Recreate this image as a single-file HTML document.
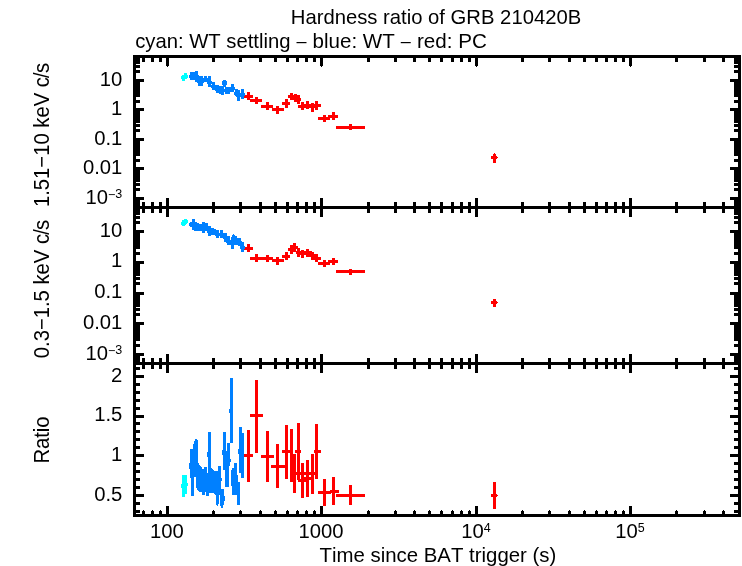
<!DOCTYPE html>
<html><head><meta charset="utf-8"><title>Hardness ratio of GRB 210420B</title>
<style>
html,body{margin:0;padding:0;background:#fff;}
svg{display:block;}
text{font-family:"Liberation Sans",Arial,Helvetica,sans-serif;font-size:20.25px;fill:#000;font-kerning:none;}
</style></head><body>
<svg width="742" height="566" viewBox="0 0 742 566">
<rect x="0" y="0" width="742" height="566" fill="#fff"/>
<g shape-rendering="crispEdges">
<rect x="133" y="55" width="608" height="3" fill="#000"/>
<rect x="133" y="514" width="608" height="3" fill="#000"/>
<rect x="133" y="55" width="3" height="462" fill="#000"/>
<rect x="738" y="55" width="3" height="462" fill="#000"/>
<rect x="133" y="206" width="608" height="3" fill="#000"/>
<rect x="133" y="362" width="608" height="3" fill="#000"/>
<rect x="142" y="55" width="3" height="7" fill="#000"/>
<rect x="142" y="511" width="3" height="6" fill="#000"/>
<rect x="143" y="510" width="1" height="1" fill="#000"/>
<rect x="142" y="202" width="3" height="11" fill="#000"/>
<rect x="142" y="358" width="3" height="11" fill="#000"/>
<rect x="151" y="55" width="3" height="7" fill="#000"/>
<rect x="151" y="511" width="3" height="6" fill="#000"/>
<rect x="152" y="510" width="1" height="1" fill="#000"/>
<rect x="151" y="202" width="3" height="11" fill="#000"/>
<rect x="151" y="358" width="3" height="11" fill="#000"/>
<rect x="159" y="55" width="3" height="7" fill="#000"/>
<rect x="159" y="511" width="3" height="6" fill="#000"/>
<rect x="160" y="510" width="1" height="1" fill="#000"/>
<rect x="159" y="202" width="3" height="11" fill="#000"/>
<rect x="159" y="358" width="3" height="11" fill="#000"/>
<rect x="166" y="55" width="3" height="11" fill="#000"/>
<rect x="167" y="66" width="1" height="1" fill="#000"/>
<rect x="166" y="506" width="3" height="11" fill="#000"/>
<rect x="166" y="198" width="3" height="19" fill="#000"/>
<rect x="166" y="354" width="3" height="19" fill="#000"/>
<rect x="212" y="55" width="3" height="7" fill="#000"/>
<rect x="212" y="511" width="3" height="6" fill="#000"/>
<rect x="213" y="510" width="1" height="1" fill="#000"/>
<rect x="212" y="202" width="3" height="11" fill="#000"/>
<rect x="212" y="358" width="3" height="11" fill="#000"/>
<rect x="239" y="55" width="3" height="7" fill="#000"/>
<rect x="239" y="511" width="3" height="6" fill="#000"/>
<rect x="240" y="510" width="1" height="1" fill="#000"/>
<rect x="239" y="202" width="3" height="11" fill="#000"/>
<rect x="239" y="358" width="3" height="11" fill="#000"/>
<rect x="259" y="55" width="3" height="7" fill="#000"/>
<rect x="259" y="511" width="3" height="6" fill="#000"/>
<rect x="260" y="510" width="1" height="1" fill="#000"/>
<rect x="259" y="202" width="3" height="11" fill="#000"/>
<rect x="259" y="358" width="3" height="11" fill="#000"/>
<rect x="274" y="55" width="3" height="7" fill="#000"/>
<rect x="274" y="511" width="3" height="6" fill="#000"/>
<rect x="275" y="510" width="1" height="1" fill="#000"/>
<rect x="274" y="202" width="3" height="11" fill="#000"/>
<rect x="274" y="358" width="3" height="11" fill="#000"/>
<rect x="286" y="55" width="3" height="7" fill="#000"/>
<rect x="286" y="511" width="3" height="6" fill="#000"/>
<rect x="287" y="510" width="1" height="1" fill="#000"/>
<rect x="286" y="202" width="3" height="11" fill="#000"/>
<rect x="286" y="358" width="3" height="11" fill="#000"/>
<rect x="296" y="55" width="3" height="7" fill="#000"/>
<rect x="296" y="511" width="3" height="6" fill="#000"/>
<rect x="297" y="510" width="1" height="1" fill="#000"/>
<rect x="296" y="202" width="3" height="11" fill="#000"/>
<rect x="296" y="358" width="3" height="11" fill="#000"/>
<rect x="305" y="55" width="3" height="7" fill="#000"/>
<rect x="305" y="511" width="3" height="6" fill="#000"/>
<rect x="306" y="510" width="1" height="1" fill="#000"/>
<rect x="305" y="202" width="3" height="11" fill="#000"/>
<rect x="305" y="358" width="3" height="11" fill="#000"/>
<rect x="313" y="55" width="3" height="7" fill="#000"/>
<rect x="313" y="511" width="3" height="6" fill="#000"/>
<rect x="314" y="510" width="1" height="1" fill="#000"/>
<rect x="313" y="202" width="3" height="11" fill="#000"/>
<rect x="313" y="358" width="3" height="11" fill="#000"/>
<rect x="320" y="55" width="3" height="11" fill="#000"/>
<rect x="321" y="66" width="1" height="1" fill="#000"/>
<rect x="320" y="506" width="3" height="11" fill="#000"/>
<rect x="320" y="198" width="3" height="19" fill="#000"/>
<rect x="320" y="354" width="3" height="19" fill="#000"/>
<rect x="367" y="55" width="3" height="7" fill="#000"/>
<rect x="367" y="511" width="3" height="6" fill="#000"/>
<rect x="368" y="510" width="1" height="1" fill="#000"/>
<rect x="367" y="202" width="3" height="11" fill="#000"/>
<rect x="367" y="358" width="3" height="11" fill="#000"/>
<rect x="394" y="55" width="3" height="7" fill="#000"/>
<rect x="394" y="511" width="3" height="6" fill="#000"/>
<rect x="395" y="510" width="1" height="1" fill="#000"/>
<rect x="394" y="202" width="3" height="11" fill="#000"/>
<rect x="394" y="358" width="3" height="11" fill="#000"/>
<rect x="413" y="55" width="3" height="7" fill="#000"/>
<rect x="413" y="511" width="3" height="6" fill="#000"/>
<rect x="414" y="510" width="1" height="1" fill="#000"/>
<rect x="413" y="202" width="3" height="11" fill="#000"/>
<rect x="413" y="358" width="3" height="11" fill="#000"/>
<rect x="428" y="55" width="3" height="7" fill="#000"/>
<rect x="428" y="511" width="3" height="6" fill="#000"/>
<rect x="429" y="510" width="1" height="1" fill="#000"/>
<rect x="428" y="202" width="3" height="11" fill="#000"/>
<rect x="428" y="358" width="3" height="11" fill="#000"/>
<rect x="440" y="55" width="3" height="7" fill="#000"/>
<rect x="440" y="511" width="3" height="6" fill="#000"/>
<rect x="441" y="510" width="1" height="1" fill="#000"/>
<rect x="440" y="202" width="3" height="11" fill="#000"/>
<rect x="440" y="358" width="3" height="11" fill="#000"/>
<rect x="451" y="55" width="3" height="7" fill="#000"/>
<rect x="451" y="511" width="3" height="6" fill="#000"/>
<rect x="452" y="510" width="1" height="1" fill="#000"/>
<rect x="451" y="202" width="3" height="11" fill="#000"/>
<rect x="451" y="358" width="3" height="11" fill="#000"/>
<rect x="460" y="55" width="3" height="7" fill="#000"/>
<rect x="460" y="511" width="3" height="6" fill="#000"/>
<rect x="461" y="510" width="1" height="1" fill="#000"/>
<rect x="460" y="202" width="3" height="11" fill="#000"/>
<rect x="460" y="358" width="3" height="11" fill="#000"/>
<rect x="468" y="55" width="3" height="7" fill="#000"/>
<rect x="468" y="511" width="3" height="6" fill="#000"/>
<rect x="469" y="510" width="1" height="1" fill="#000"/>
<rect x="468" y="202" width="3" height="11" fill="#000"/>
<rect x="468" y="358" width="3" height="11" fill="#000"/>
<rect x="475" y="55" width="3" height="11" fill="#000"/>
<rect x="476" y="66" width="1" height="1" fill="#000"/>
<rect x="475" y="506" width="3" height="11" fill="#000"/>
<rect x="475" y="198" width="3" height="19" fill="#000"/>
<rect x="475" y="354" width="3" height="19" fill="#000"/>
<rect x="521" y="55" width="3" height="7" fill="#000"/>
<rect x="521" y="511" width="3" height="6" fill="#000"/>
<rect x="522" y="510" width="1" height="1" fill="#000"/>
<rect x="521" y="202" width="3" height="11" fill="#000"/>
<rect x="521" y="358" width="3" height="11" fill="#000"/>
<rect x="548" y="55" width="3" height="7" fill="#000"/>
<rect x="548" y="511" width="3" height="6" fill="#000"/>
<rect x="549" y="510" width="1" height="1" fill="#000"/>
<rect x="548" y="202" width="3" height="11" fill="#000"/>
<rect x="548" y="358" width="3" height="11" fill="#000"/>
<rect x="568" y="55" width="3" height="7" fill="#000"/>
<rect x="568" y="511" width="3" height="6" fill="#000"/>
<rect x="569" y="510" width="1" height="1" fill="#000"/>
<rect x="568" y="202" width="3" height="11" fill="#000"/>
<rect x="568" y="358" width="3" height="11" fill="#000"/>
<rect x="583" y="55" width="3" height="7" fill="#000"/>
<rect x="583" y="511" width="3" height="6" fill="#000"/>
<rect x="584" y="510" width="1" height="1" fill="#000"/>
<rect x="583" y="202" width="3" height="11" fill="#000"/>
<rect x="583" y="358" width="3" height="11" fill="#000"/>
<rect x="595" y="55" width="3" height="7" fill="#000"/>
<rect x="595" y="511" width="3" height="6" fill="#000"/>
<rect x="596" y="510" width="1" height="1" fill="#000"/>
<rect x="595" y="202" width="3" height="11" fill="#000"/>
<rect x="595" y="358" width="3" height="11" fill="#000"/>
<rect x="605" y="55" width="3" height="7" fill="#000"/>
<rect x="605" y="511" width="3" height="6" fill="#000"/>
<rect x="606" y="510" width="1" height="1" fill="#000"/>
<rect x="605" y="202" width="3" height="11" fill="#000"/>
<rect x="605" y="358" width="3" height="11" fill="#000"/>
<rect x="614" y="55" width="3" height="7" fill="#000"/>
<rect x="614" y="511" width="3" height="6" fill="#000"/>
<rect x="615" y="510" width="1" height="1" fill="#000"/>
<rect x="614" y="202" width="3" height="11" fill="#000"/>
<rect x="614" y="358" width="3" height="11" fill="#000"/>
<rect x="622" y="55" width="3" height="7" fill="#000"/>
<rect x="622" y="511" width="3" height="6" fill="#000"/>
<rect x="623" y="510" width="1" height="1" fill="#000"/>
<rect x="622" y="202" width="3" height="11" fill="#000"/>
<rect x="622" y="358" width="3" height="11" fill="#000"/>
<rect x="629" y="55" width="3" height="11" fill="#000"/>
<rect x="630" y="66" width="1" height="1" fill="#000"/>
<rect x="629" y="506" width="3" height="11" fill="#000"/>
<rect x="629" y="198" width="3" height="19" fill="#000"/>
<rect x="629" y="354" width="3" height="19" fill="#000"/>
<rect x="675" y="55" width="3" height="7" fill="#000"/>
<rect x="675" y="511" width="3" height="6" fill="#000"/>
<rect x="676" y="510" width="1" height="1" fill="#000"/>
<rect x="675" y="202" width="3" height="11" fill="#000"/>
<rect x="675" y="358" width="3" height="11" fill="#000"/>
<rect x="703" y="55" width="3" height="7" fill="#000"/>
<rect x="703" y="511" width="3" height="6" fill="#000"/>
<rect x="704" y="510" width="1" height="1" fill="#000"/>
<rect x="703" y="202" width="3" height="11" fill="#000"/>
<rect x="703" y="358" width="3" height="11" fill="#000"/>
<rect x="722" y="55" width="3" height="7" fill="#000"/>
<rect x="722" y="511" width="3" height="6" fill="#000"/>
<rect x="723" y="510" width="1" height="1" fill="#000"/>
<rect x="722" y="202" width="3" height="11" fill="#000"/>
<rect x="722" y="358" width="3" height="11" fill="#000"/>
<rect x="133" y="203" width="7" height="3" fill="#000"/>
<rect x="734" y="203" width="7" height="3" fill="#000"/>
<rect x="133" y="201" width="7" height="3" fill="#000"/>
<rect x="734" y="201" width="7" height="3" fill="#000"/>
<rect x="133" y="200" width="7" height="3" fill="#000"/>
<rect x="734" y="200" width="7" height="3" fill="#000"/>
<rect x="133" y="198" width="7" height="3" fill="#000"/>
<rect x="734" y="198" width="7" height="3" fill="#000"/>
<rect x="133" y="197" width="11" height="3" fill="#000"/>
<rect x="730" y="197" width="11" height="3" fill="#000"/>
<rect x="133" y="188" width="7" height="3" fill="#000"/>
<rect x="734" y="188" width="7" height="3" fill="#000"/>
<rect x="133" y="183" width="7" height="3" fill="#000"/>
<rect x="734" y="183" width="7" height="3" fill="#000"/>
<rect x="133" y="179" width="7" height="3" fill="#000"/>
<rect x="734" y="179" width="7" height="3" fill="#000"/>
<rect x="133" y="176" width="7" height="3" fill="#000"/>
<rect x="734" y="176" width="7" height="3" fill="#000"/>
<rect x="133" y="174" width="7" height="3" fill="#000"/>
<rect x="734" y="174" width="7" height="3" fill="#000"/>
<rect x="133" y="172" width="7" height="3" fill="#000"/>
<rect x="734" y="172" width="7" height="3" fill="#000"/>
<rect x="133" y="170" width="7" height="3" fill="#000"/>
<rect x="734" y="170" width="7" height="3" fill="#000"/>
<rect x="133" y="169" width="7" height="3" fill="#000"/>
<rect x="734" y="169" width="7" height="3" fill="#000"/>
<rect x="133" y="167" width="11" height="3" fill="#000"/>
<rect x="730" y="167" width="11" height="3" fill="#000"/>
<rect x="133" y="159" width="7" height="3" fill="#000"/>
<rect x="734" y="159" width="7" height="3" fill="#000"/>
<rect x="133" y="153" width="7" height="3" fill="#000"/>
<rect x="734" y="153" width="7" height="3" fill="#000"/>
<rect x="133" y="150" width="7" height="3" fill="#000"/>
<rect x="734" y="150" width="7" height="3" fill="#000"/>
<rect x="133" y="147" width="7" height="3" fill="#000"/>
<rect x="734" y="147" width="7" height="3" fill="#000"/>
<rect x="133" y="144" width="7" height="3" fill="#000"/>
<rect x="734" y="144" width="7" height="3" fill="#000"/>
<rect x="133" y="142" width="7" height="3" fill="#000"/>
<rect x="734" y="142" width="7" height="3" fill="#000"/>
<rect x="133" y="141" width="7" height="3" fill="#000"/>
<rect x="734" y="141" width="7" height="3" fill="#000"/>
<rect x="133" y="139" width="7" height="3" fill="#000"/>
<rect x="734" y="139" width="7" height="3" fill="#000"/>
<rect x="133" y="138" width="11" height="3" fill="#000"/>
<rect x="730" y="138" width="11" height="3" fill="#000"/>
<rect x="133" y="129" width="7" height="3" fill="#000"/>
<rect x="734" y="129" width="7" height="3" fill="#000"/>
<rect x="133" y="124" width="7" height="3" fill="#000"/>
<rect x="734" y="124" width="7" height="3" fill="#000"/>
<rect x="133" y="120" width="7" height="3" fill="#000"/>
<rect x="734" y="120" width="7" height="3" fill="#000"/>
<rect x="133" y="117" width="7" height="3" fill="#000"/>
<rect x="734" y="117" width="7" height="3" fill="#000"/>
<rect x="133" y="115" width="7" height="3" fill="#000"/>
<rect x="734" y="115" width="7" height="3" fill="#000"/>
<rect x="133" y="113" width="7" height="3" fill="#000"/>
<rect x="734" y="113" width="7" height="3" fill="#000"/>
<rect x="133" y="111" width="7" height="3" fill="#000"/>
<rect x="734" y="111" width="7" height="3" fill="#000"/>
<rect x="133" y="110" width="7" height="3" fill="#000"/>
<rect x="734" y="110" width="7" height="3" fill="#000"/>
<rect x="133" y="108" width="11" height="3" fill="#000"/>
<rect x="730" y="108" width="11" height="3" fill="#000"/>
<rect x="133" y="100" width="7" height="3" fill="#000"/>
<rect x="734" y="100" width="7" height="3" fill="#000"/>
<rect x="133" y="94" width="7" height="3" fill="#000"/>
<rect x="734" y="94" width="7" height="3" fill="#000"/>
<rect x="133" y="91" width="7" height="3" fill="#000"/>
<rect x="734" y="91" width="7" height="3" fill="#000"/>
<rect x="133" y="88" width="7" height="3" fill="#000"/>
<rect x="734" y="88" width="7" height="3" fill="#000"/>
<rect x="133" y="85" width="7" height="3" fill="#000"/>
<rect x="734" y="85" width="7" height="3" fill="#000"/>
<rect x="133" y="83" width="7" height="3" fill="#000"/>
<rect x="734" y="83" width="7" height="3" fill="#000"/>
<rect x="133" y="82" width="7" height="3" fill="#000"/>
<rect x="734" y="82" width="7" height="3" fill="#000"/>
<rect x="133" y="80" width="7" height="3" fill="#000"/>
<rect x="734" y="80" width="7" height="3" fill="#000"/>
<rect x="133" y="79" width="11" height="3" fill="#000"/>
<rect x="730" y="79" width="11" height="3" fill="#000"/>
<rect x="133" y="70" width="7" height="3" fill="#000"/>
<rect x="734" y="70" width="7" height="3" fill="#000"/>
<rect x="133" y="65" width="7" height="3" fill="#000"/>
<rect x="734" y="65" width="7" height="3" fill="#000"/>
<rect x="133" y="61" width="7" height="3" fill="#000"/>
<rect x="734" y="61" width="7" height="3" fill="#000"/>
<rect x="133" y="58" width="7" height="3" fill="#000"/>
<rect x="734" y="58" width="7" height="3" fill="#000"/>
<rect x="133" y="360" width="7" height="3" fill="#000"/>
<rect x="734" y="360" width="7" height="3" fill="#000"/>
<rect x="133" y="358" width="7" height="3" fill="#000"/>
<rect x="734" y="358" width="7" height="3" fill="#000"/>
<rect x="133" y="356" width="7" height="3" fill="#000"/>
<rect x="734" y="356" width="7" height="3" fill="#000"/>
<rect x="133" y="355" width="7" height="3" fill="#000"/>
<rect x="734" y="355" width="7" height="3" fill="#000"/>
<rect x="133" y="353" width="11" height="3" fill="#000"/>
<rect x="730" y="353" width="11" height="3" fill="#000"/>
<rect x="133" y="344" width="7" height="3" fill="#000"/>
<rect x="734" y="344" width="7" height="3" fill="#000"/>
<rect x="133" y="338" width="7" height="3" fill="#000"/>
<rect x="734" y="338" width="7" height="3" fill="#000"/>
<rect x="133" y="335" width="7" height="3" fill="#000"/>
<rect x="734" y="335" width="7" height="3" fill="#000"/>
<rect x="133" y="332" width="7" height="3" fill="#000"/>
<rect x="734" y="332" width="7" height="3" fill="#000"/>
<rect x="133" y="329" width="7" height="3" fill="#000"/>
<rect x="734" y="329" width="7" height="3" fill="#000"/>
<rect x="133" y="327" width="7" height="3" fill="#000"/>
<rect x="734" y="327" width="7" height="3" fill="#000"/>
<rect x="133" y="325" width="7" height="3" fill="#000"/>
<rect x="734" y="325" width="7" height="3" fill="#000"/>
<rect x="133" y="324" width="7" height="3" fill="#000"/>
<rect x="734" y="324" width="7" height="3" fill="#000"/>
<rect x="133" y="322" width="11" height="3" fill="#000"/>
<rect x="730" y="322" width="11" height="3" fill="#000"/>
<rect x="133" y="313" width="7" height="3" fill="#000"/>
<rect x="734" y="313" width="7" height="3" fill="#000"/>
<rect x="133" y="308" width="7" height="3" fill="#000"/>
<rect x="734" y="308" width="7" height="3" fill="#000"/>
<rect x="133" y="304" width="7" height="3" fill="#000"/>
<rect x="734" y="304" width="7" height="3" fill="#000"/>
<rect x="133" y="301" width="7" height="3" fill="#000"/>
<rect x="734" y="301" width="7" height="3" fill="#000"/>
<rect x="133" y="299" width="7" height="3" fill="#000"/>
<rect x="734" y="299" width="7" height="3" fill="#000"/>
<rect x="133" y="296" width="7" height="3" fill="#000"/>
<rect x="734" y="296" width="7" height="3" fill="#000"/>
<rect x="133" y="295" width="7" height="3" fill="#000"/>
<rect x="734" y="295" width="7" height="3" fill="#000"/>
<rect x="133" y="293" width="7" height="3" fill="#000"/>
<rect x="734" y="293" width="7" height="3" fill="#000"/>
<rect x="133" y="292" width="11" height="3" fill="#000"/>
<rect x="730" y="292" width="11" height="3" fill="#000"/>
<rect x="133" y="282" width="7" height="3" fill="#000"/>
<rect x="734" y="282" width="7" height="3" fill="#000"/>
<rect x="133" y="277" width="7" height="3" fill="#000"/>
<rect x="734" y="277" width="7" height="3" fill="#000"/>
<rect x="133" y="273" width="7" height="3" fill="#000"/>
<rect x="734" y="273" width="7" height="3" fill="#000"/>
<rect x="133" y="270" width="7" height="3" fill="#000"/>
<rect x="734" y="270" width="7" height="3" fill="#000"/>
<rect x="133" y="268" width="7" height="3" fill="#000"/>
<rect x="734" y="268" width="7" height="3" fill="#000"/>
<rect x="133" y="266" width="7" height="3" fill="#000"/>
<rect x="734" y="266" width="7" height="3" fill="#000"/>
<rect x="133" y="264" width="7" height="3" fill="#000"/>
<rect x="734" y="264" width="7" height="3" fill="#000"/>
<rect x="133" y="262" width="7" height="3" fill="#000"/>
<rect x="734" y="262" width="7" height="3" fill="#000"/>
<rect x="133" y="261" width="11" height="3" fill="#000"/>
<rect x="730" y="261" width="11" height="3" fill="#000"/>
<rect x="133" y="252" width="7" height="3" fill="#000"/>
<rect x="734" y="252" width="7" height="3" fill="#000"/>
<rect x="133" y="246" width="7" height="3" fill="#000"/>
<rect x="734" y="246" width="7" height="3" fill="#000"/>
<rect x="133" y="243" width="7" height="3" fill="#000"/>
<rect x="734" y="243" width="7" height="3" fill="#000"/>
<rect x="133" y="240" width="7" height="3" fill="#000"/>
<rect x="734" y="240" width="7" height="3" fill="#000"/>
<rect x="133" y="237" width="7" height="3" fill="#000"/>
<rect x="734" y="237" width="7" height="3" fill="#000"/>
<rect x="133" y="235" width="7" height="3" fill="#000"/>
<rect x="734" y="235" width="7" height="3" fill="#000"/>
<rect x="133" y="233" width="7" height="3" fill="#000"/>
<rect x="734" y="233" width="7" height="3" fill="#000"/>
<rect x="133" y="232" width="7" height="3" fill="#000"/>
<rect x="734" y="232" width="7" height="3" fill="#000"/>
<rect x="133" y="230" width="11" height="3" fill="#000"/>
<rect x="730" y="230" width="11" height="3" fill="#000"/>
<rect x="133" y="221" width="7" height="3" fill="#000"/>
<rect x="734" y="221" width="7" height="3" fill="#000"/>
<rect x="133" y="216" width="7" height="3" fill="#000"/>
<rect x="734" y="216" width="7" height="3" fill="#000"/>
<rect x="133" y="212" width="7" height="3" fill="#000"/>
<rect x="734" y="212" width="7" height="3" fill="#000"/>
<rect x="133" y="209" width="7" height="3" fill="#000"/>
<rect x="734" y="209" width="7" height="3" fill="#000"/>
<rect x="133" y="510" width="7" height="3" fill="#000"/>
<rect x="734" y="510" width="7" height="3" fill="#000"/>
<rect x="133" y="502" width="7" height="3" fill="#000"/>
<rect x="734" y="502" width="7" height="3" fill="#000"/>
<rect x="133" y="494" width="11" height="3" fill="#000"/>
<rect x="730" y="494" width="11" height="3" fill="#000"/>
<rect x="133" y="486" width="7" height="3" fill="#000"/>
<rect x="734" y="486" width="7" height="3" fill="#000"/>
<rect x="133" y="478" width="7" height="3" fill="#000"/>
<rect x="734" y="478" width="7" height="3" fill="#000"/>
<rect x="133" y="470" width="7" height="3" fill="#000"/>
<rect x="734" y="470" width="7" height="3" fill="#000"/>
<rect x="133" y="462" width="7" height="3" fill="#000"/>
<rect x="734" y="462" width="7" height="3" fill="#000"/>
<rect x="133" y="454" width="11" height="3" fill="#000"/>
<rect x="730" y="454" width="11" height="3" fill="#000"/>
<rect x="133" y="446" width="7" height="3" fill="#000"/>
<rect x="734" y="446" width="7" height="3" fill="#000"/>
<rect x="133" y="438" width="7" height="3" fill="#000"/>
<rect x="734" y="438" width="7" height="3" fill="#000"/>
<rect x="133" y="430" width="7" height="3" fill="#000"/>
<rect x="734" y="430" width="7" height="3" fill="#000"/>
<rect x="133" y="422" width="7" height="3" fill="#000"/>
<rect x="734" y="422" width="7" height="3" fill="#000"/>
<rect x="133" y="415" width="11" height="3" fill="#000"/>
<rect x="730" y="415" width="11" height="3" fill="#000"/>
<rect x="133" y="407" width="7" height="3" fill="#000"/>
<rect x="734" y="407" width="7" height="3" fill="#000"/>
<rect x="133" y="399" width="7" height="3" fill="#000"/>
<rect x="734" y="399" width="7" height="3" fill="#000"/>
<rect x="133" y="391" width="7" height="3" fill="#000"/>
<rect x="734" y="391" width="7" height="3" fill="#000"/>
<rect x="133" y="383" width="7" height="3" fill="#000"/>
<rect x="734" y="383" width="7" height="3" fill="#000"/>
<rect x="133" y="375" width="11" height="3" fill="#000"/>
<rect x="730" y="375" width="11" height="3" fill="#000"/>
<rect x="133" y="367" width="7" height="3" fill="#000"/>
<rect x="734" y="367" width="7" height="3" fill="#000"/>
<rect x="244" y="95" width="9" height="3" fill="#ff0000"/>
<rect x="247" y="92" width="3" height="8" fill="#ff0000"/>
<rect x="250" y="99" width="12" height="3" fill="#ff0000"/>
<rect x="255" y="97" width="3" height="7" fill="#ff0000"/>
<rect x="261" y="105" width="12" height="3" fill="#ff0000"/>
<rect x="266" y="102" width="3" height="8" fill="#ff0000"/>
<rect x="272" y="108" width="12" height="3" fill="#ff0000"/>
<rect x="276" y="106" width="3" height="8" fill="#ff0000"/>
<rect x="282" y="102" width="8" height="3" fill="#ff0000"/>
<rect x="285" y="99" width="3" height="9" fill="#ff0000"/>
<rect x="288" y="95" width="7" height="3" fill="#ff0000"/>
<rect x="290" y="93" width="3" height="7" fill="#ff0000"/>
<rect x="291" y="97" width="8" height="3" fill="#ff0000"/>
<rect x="294" y="94" width="3" height="8" fill="#ff0000"/>
<rect x="296" y="98" width="5" height="3" fill="#ff0000"/>
<rect x="297" y="95" width="3" height="9" fill="#ff0000"/>
<rect x="298" y="105" width="8" height="3" fill="#ff0000"/>
<rect x="301" y="102" width="3" height="8" fill="#ff0000"/>
<rect x="303" y="104" width="9" height="3" fill="#ff0000"/>
<rect x="306" y="101" width="3" height="8" fill="#ff0000"/>
<rect x="308" y="105" width="8" height="3" fill="#ff0000"/>
<rect x="311" y="103" width="3" height="9" fill="#ff0000"/>
<rect x="313" y="104" width="8" height="3" fill="#ff0000"/>
<rect x="315" y="101" width="3" height="9" fill="#ff0000"/>
<rect x="318" y="117" width="12" height="3" fill="#ff0000"/>
<rect x="323" y="115" width="3" height="7" fill="#ff0000"/>
<rect x="328" y="115" width="10" height="3" fill="#ff0000"/>
<rect x="332" y="112" width="3" height="8" fill="#ff0000"/>
<rect x="336" y="126" width="29" height="3" fill="#ff0000"/>
<rect x="349" y="124" width="3" height="6" fill="#ff0000"/>
<rect x="493" y="154" width="3" height="9" fill="#ff0000"/>
<rect x="491" y="156" width="6" height="3" fill="#ff0000"/>
<rect x="494" y="153" width="1" height="1" fill="#ff0000"/>
<rect x="497" y="157" width="1" height="1" fill="#ff0000"/>
<rect x="190" y="72" width="3" height="8" fill="#0080ff"/>
<rect x="189" y="75" width="5" height="3" fill="#0080ff"/>
<rect x="193" y="72" width="3" height="8" fill="#0080ff"/>
<rect x="192" y="75" width="5" height="3" fill="#0080ff"/>
<rect x="195" y="71" width="3" height="11" fill="#0080ff"/>
<rect x="194" y="75" width="5" height="3" fill="#0080ff"/>
<rect x="198" y="76" width="3" height="10" fill="#0080ff"/>
<rect x="197" y="80" width="5" height="3" fill="#0080ff"/>
<rect x="200" y="76" width="3" height="10" fill="#0080ff"/>
<rect x="199" y="80" width="5" height="3" fill="#0080ff"/>
<rect x="204" y="76" width="3" height="6" fill="#0080ff"/>
<rect x="203" y="78" width="5" height="3" fill="#0080ff"/>
<rect x="208" y="76" width="3" height="11" fill="#0080ff"/>
<rect x="207" y="81" width="5" height="3" fill="#0080ff"/>
<rect x="212" y="82" width="3" height="8" fill="#0080ff"/>
<rect x="211" y="85" width="5" height="3" fill="#0080ff"/>
<rect x="216" y="85" width="3" height="8" fill="#0080ff"/>
<rect x="215" y="88" width="5" height="3" fill="#0080ff"/>
<rect x="219" y="86" width="3" height="8" fill="#0080ff"/>
<rect x="218" y="89" width="5" height="3" fill="#0080ff"/>
<rect x="221" y="86" width="3" height="9" fill="#0080ff"/>
<rect x="220" y="89" width="5" height="3" fill="#0080ff"/>
<rect x="225" y="87" width="3" height="7" fill="#0080ff"/>
<rect x="224" y="89" width="5" height="3" fill="#0080ff"/>
<rect x="227" y="87" width="3" height="7" fill="#0080ff"/>
<rect x="226" y="89" width="5" height="3" fill="#0080ff"/>
<rect x="231" y="84" width="3" height="8" fill="#0080ff"/>
<rect x="230" y="87" width="5" height="3" fill="#0080ff"/>
<rect x="235" y="89" width="3" height="7" fill="#0080ff"/>
<rect x="234" y="92" width="5" height="3" fill="#0080ff"/>
<rect x="237" y="90" width="3" height="11" fill="#0080ff"/>
<rect x="236" y="94" width="5" height="3" fill="#0080ff"/>
<rect x="241" y="89" width="3" height="10" fill="#0080ff"/>
<rect x="240" y="93" width="5" height="3" fill="#0080ff"/>
<rect x="223" y="80" width="3" height="7" fill="#0080ff"/>
<rect x="222" y="81" width="5" height="4" fill="#0080ff"/>
<rect x="182" y="75" width="3" height="6" fill="#00ffff"/>
<rect x="181" y="76" width="5" height="3" fill="#00ffff"/>
<rect x="184" y="73" width="3" height="6" fill="#00ffff"/>
<rect x="183" y="75" width="5" height="3" fill="#00ffff"/>
<rect x="244" y="247" width="9" height="3" fill="#ff0000"/>
<rect x="247" y="244" width="3" height="8" fill="#ff0000"/>
<rect x="250" y="257" width="12" height="3" fill="#ff0000"/>
<rect x="255" y="254" width="3" height="8" fill="#ff0000"/>
<rect x="261" y="257" width="12" height="3" fill="#ff0000"/>
<rect x="266" y="255" width="3" height="7" fill="#ff0000"/>
<rect x="272" y="259" width="12" height="3" fill="#ff0000"/>
<rect x="276" y="257" width="3" height="8" fill="#ff0000"/>
<rect x="282" y="255" width="8" height="3" fill="#ff0000"/>
<rect x="285" y="252" width="3" height="8" fill="#ff0000"/>
<rect x="288" y="248" width="7" height="3" fill="#ff0000"/>
<rect x="290" y="245" width="3" height="9" fill="#ff0000"/>
<rect x="291" y="246" width="7" height="3" fill="#ff0000"/>
<rect x="293" y="243" width="3" height="9" fill="#ff0000"/>
<rect x="296" y="251" width="5" height="3" fill="#ff0000"/>
<rect x="297" y="248" width="3" height="9" fill="#ff0000"/>
<rect x="298" y="252" width="8" height="3" fill="#ff0000"/>
<rect x="301" y="250" width="3" height="8" fill="#ff0000"/>
<rect x="303" y="251" width="9" height="3" fill="#ff0000"/>
<rect x="306" y="249" width="3" height="8" fill="#ff0000"/>
<rect x="308" y="254" width="8" height="3" fill="#ff0000"/>
<rect x="311" y="252" width="3" height="8" fill="#ff0000"/>
<rect x="313" y="257" width="8" height="3" fill="#ff0000"/>
<rect x="315" y="254" width="3" height="8" fill="#ff0000"/>
<rect x="318" y="262" width="12" height="3" fill="#ff0000"/>
<rect x="323" y="260" width="3" height="7" fill="#ff0000"/>
<rect x="328" y="260" width="10" height="3" fill="#ff0000"/>
<rect x="332" y="258" width="3" height="7" fill="#ff0000"/>
<rect x="336" y="270" width="29" height="3" fill="#ff0000"/>
<rect x="349" y="269" width="3" height="6" fill="#ff0000"/>
<rect x="493" y="299" width="3" height="8" fill="#ff0000"/>
<rect x="491" y="301" width="6" height="3" fill="#ff0000"/>
<rect x="497" y="302" width="1" height="1" fill="#ff0000"/>
<rect x="190" y="222" width="3" height="5" fill="#0080ff"/>
<rect x="189" y="223" width="5" height="3" fill="#0080ff"/>
<rect x="192" y="219" width="3" height="11" fill="#0080ff"/>
<rect x="191" y="224" width="5" height="3" fill="#0080ff"/>
<rect x="194" y="222" width="3" height="9" fill="#0080ff"/>
<rect x="193" y="226" width="5" height="3" fill="#0080ff"/>
<rect x="196" y="223" width="3" height="8" fill="#0080ff"/>
<rect x="195" y="226" width="5" height="3" fill="#0080ff"/>
<rect x="199" y="224" width="3" height="7" fill="#0080ff"/>
<rect x="198" y="226" width="5" height="3" fill="#0080ff"/>
<rect x="202" y="222" width="3" height="11" fill="#0080ff"/>
<rect x="201" y="226" width="5" height="3" fill="#0080ff"/>
<rect x="205" y="223" width="3" height="8" fill="#0080ff"/>
<rect x="204" y="226" width="5" height="3" fill="#0080ff"/>
<rect x="208" y="226" width="3" height="10" fill="#0080ff"/>
<rect x="207" y="230" width="5" height="3" fill="#0080ff"/>
<rect x="211" y="228" width="3" height="7" fill="#0080ff"/>
<rect x="210" y="231" width="5" height="3" fill="#0080ff"/>
<rect x="213" y="229" width="3" height="6" fill="#0080ff"/>
<rect x="212" y="231" width="5" height="3" fill="#0080ff"/>
<rect x="216" y="230" width="3" height="8" fill="#0080ff"/>
<rect x="215" y="233" width="5" height="3" fill="#0080ff"/>
<rect x="220" y="230" width="3" height="8" fill="#0080ff"/>
<rect x="219" y="233" width="5" height="3" fill="#0080ff"/>
<rect x="224" y="233" width="3" height="9" fill="#0080ff"/>
<rect x="223" y="236" width="5" height="3" fill="#0080ff"/>
<rect x="227" y="236" width="3" height="9" fill="#0080ff"/>
<rect x="226" y="240" width="5" height="3" fill="#0080ff"/>
<rect x="231" y="237" width="3" height="12" fill="#0080ff"/>
<rect x="230" y="242" width="5" height="3" fill="#0080ff"/>
<rect x="234" y="236" width="3" height="9" fill="#0080ff"/>
<rect x="233" y="239" width="5" height="3" fill="#0080ff"/>
<rect x="236" y="238" width="3" height="7" fill="#0080ff"/>
<rect x="235" y="241" width="5" height="3" fill="#0080ff"/>
<rect x="238" y="238" width="3" height="8" fill="#0080ff"/>
<rect x="237" y="241" width="5" height="3" fill="#0080ff"/>
<rect x="241" y="242" width="3" height="10" fill="#0080ff"/>
<rect x="240" y="246" width="5" height="3" fill="#0080ff"/>
<rect x="232" y="235" width="3" height="9" fill="#0080ff"/>
<rect x="233" y="234" width="1" height="1" fill="#0080ff"/>
<rect x="182" y="220" width="3" height="6" fill="#00ffff"/>
<rect x="181" y="222" width="5" height="3" fill="#00ffff"/>
<rect x="184" y="219" width="3" height="5" fill="#00ffff"/>
<rect x="183" y="220" width="5" height="3" fill="#00ffff"/>
<rect x="182" y="475" width="5" height="19" fill="#00ffff"/>
<rect x="182" y="494" width="3" height="3" fill="#00ffff"/>
<rect x="181" y="484" width="1" height="4" fill="#00ffff"/>
<rect x="187" y="483" width="1" height="3" fill="#00ffff"/>
<rect x="190" y="449" width="1" height="29" fill="#0080ff"/>
<rect x="191" y="449" width="1" height="47" fill="#0080ff"/>
<rect x="192" y="449" width="1" height="47" fill="#0080ff"/>
<rect x="193" y="444" width="1" height="52" fill="#0080ff"/>
<rect x="194" y="441" width="1" height="36" fill="#0080ff"/>
<rect x="195" y="439" width="1" height="38" fill="#0080ff"/>
<rect x="196" y="439" width="1" height="49" fill="#0080ff"/>
<rect x="197" y="440" width="1" height="50" fill="#0080ff"/>
<rect x="198" y="463" width="1" height="28" fill="#0080ff"/>
<rect x="199" y="465" width="1" height="27" fill="#0080ff"/>
<rect x="200" y="466" width="1" height="26" fill="#0080ff"/>
<rect x="201" y="467" width="1" height="25" fill="#0080ff"/>
<rect x="202" y="469" width="1" height="26" fill="#0080ff"/>
<rect x="203" y="469" width="1" height="26" fill="#0080ff"/>
<rect x="204" y="467" width="1" height="28" fill="#0080ff"/>
<rect x="205" y="467" width="1" height="25" fill="#0080ff"/>
<rect x="206" y="467" width="1" height="29" fill="#0080ff"/>
<rect x="207" y="473" width="1" height="23" fill="#0080ff"/>
<rect x="208" y="432" width="1" height="64" fill="#0080ff"/>
<rect x="209" y="432" width="1" height="61" fill="#0080ff"/>
<rect x="210" y="432" width="1" height="61" fill="#0080ff"/>
<rect x="211" y="468" width="1" height="25" fill="#0080ff"/>
<rect x="212" y="469" width="1" height="24" fill="#0080ff"/>
<rect x="213" y="470" width="1" height="23" fill="#0080ff"/>
<rect x="214" y="471" width="1" height="23" fill="#0080ff"/>
<rect x="215" y="471" width="1" height="24" fill="#0080ff"/>
<rect x="216" y="471" width="1" height="34" fill="#0080ff"/>
<rect x="217" y="471" width="1" height="35" fill="#0080ff"/>
<rect x="218" y="466" width="1" height="38" fill="#0080ff"/>
<rect x="219" y="466" width="1" height="29" fill="#0080ff"/>
<rect x="220" y="466" width="1" height="40" fill="#0080ff"/>
<rect x="221" y="489" width="1" height="19" fill="#0080ff"/>
<rect x="222" y="489" width="1" height="19" fill="#0080ff"/>
<rect x="223" y="489" width="1" height="16" fill="#0080ff"/>
<rect x="189" y="463" width="1" height="6" fill="#0080ff"/>
<rect x="207" y="452" width="1" height="5" fill="#0080ff"/>
<rect x="221" y="478" width="1" height="3" fill="#0080ff"/>
<rect x="224" y="496" width="1" height="5" fill="#0080ff"/>
<rect x="223" y="432" width="3" height="38" fill="#0080ff"/>
<rect x="222" y="450" width="2" height="5" fill="#0080ff"/>
<rect x="227" y="443" width="3" height="23" fill="#0080ff"/>
<rect x="226" y="451" width="1" height="36" fill="#0080ff"/>
<rect x="230" y="459" width="1" height="3" fill="#0080ff"/>
<rect x="225" y="462" width="4" height="25" fill="#0080ff"/>
<rect x="230" y="378" width="3" height="65" fill="#0080ff"/>
<rect x="229" y="409" width="2" height="4" fill="#0080ff"/>
<rect x="234" y="463" width="3" height="32" fill="#0080ff"/>
<rect x="232" y="468" width="2" height="27" fill="#0080ff"/>
<rect x="231" y="470" width="2" height="16" fill="#0080ff"/>
<rect x="237" y="482" width="3" height="23" fill="#0080ff"/>
<rect x="236" y="475" width="2" height="16" fill="#0080ff"/>
<rect x="239" y="427" width="3" height="46" fill="#0080ff"/>
<rect x="241" y="433" width="3" height="45" fill="#0080ff"/>
<rect x="238" y="449" width="2" height="5" fill="#0080ff"/>
<rect x="497" y="495" width="1" height="1" fill="#ff0000"/>
<rect x="244" y="454" width="9" height="3" fill="#ff0000"/>
<rect x="247" y="430" width="3" height="52" fill="#ff0000"/>
<rect x="250" y="414" width="13" height="3" fill="#ff0000"/>
<rect x="255" y="380" width="3" height="73" fill="#ff0000"/>
<rect x="261" y="455" width="13" height="3" fill="#ff0000"/>
<rect x="266" y="431" width="3" height="51" fill="#ff0000"/>
<rect x="271" y="465" width="14" height="3" fill="#ff0000"/>
<rect x="276" y="444" width="3" height="44" fill="#ff0000"/>
<rect x="282" y="450" width="9" height="3" fill="#ff0000"/>
<rect x="285" y="425" width="3" height="54" fill="#ff0000"/>
<rect x="288" y="450" width="5" height="3" fill="#ff0000"/>
<rect x="290" y="429" width="3" height="53" fill="#ff0000"/>
<rect x="293" y="472" width="6" height="3" fill="#ff0000"/>
<rect x="293" y="454" width="3" height="39" fill="#ff0000"/>
<rect x="295" y="450" width="6" height="3" fill="#ff0000"/>
<rect x="297" y="423" width="3" height="57" fill="#ff0000"/>
<rect x="298" y="479" width="9" height="3" fill="#ff0000"/>
<rect x="301" y="463" width="3" height="35" fill="#ff0000"/>
<rect x="303" y="477" width="9" height="3" fill="#ff0000"/>
<rect x="306" y="460" width="3" height="37" fill="#ff0000"/>
<rect x="296" y="472" width="22" height="3" fill="#ff0000"/>
<rect x="311" y="454" width="3" height="40" fill="#ff0000"/>
<rect x="314" y="450" width="7" height="3" fill="#ff0000"/>
<rect x="315" y="424" width="3" height="55" fill="#ff0000"/>
<rect x="318" y="491" width="13" height="3" fill="#ff0000"/>
<rect x="323" y="479" width="3" height="27" fill="#ff0000"/>
<rect x="330" y="490" width="9" height="3" fill="#ff0000"/>
<rect x="332" y="477" width="3" height="28" fill="#ff0000"/>
<rect x="336" y="494" width="29" height="3" fill="#ff0000"/>
<rect x="349" y="485" width="3" height="20" fill="#ff0000"/>
<rect x="491" y="494" width="6" height="3" fill="#ff0000"/>
<rect x="493" y="482" width="3" height="27" fill="#ff0000"/>
</g>
<g>
<text x="436" y="24" text-anchor="middle" >Hardness ratio of GRB 210420B</text>
<text y="47.6"><tspan x="135.2">cyan: WT settling</tspan> <tspan x="296.6" dy="-0.5" font-size="18">–</tspan> <tspan x="312.6" dy="0.5" textLength="82.2" lengthAdjust="spacingAndGlyphs">blue: WT</tspan> <tspan x="400.8" dy="-0.5" font-size="18">–</tspan> <tspan x="417" dy="0.5" textLength="69.9" lengthAdjust="spacingAndGlyphs">red: PC</tspan></text>
<text x="167" y="537.8" text-anchor="middle" >100</text>
<text x="321" y="537.8" text-anchor="middle" >1000</text>
<text x="476" y="537.8" text-anchor="middle" >10<tspan font-size="12.5" dy="-6.3">4</tspan></text>
<text x="630" y="537.8" text-anchor="middle" >10<tspan font-size="12.5" dy="-6.3">5</tspan></text>
<text x="319.5" y="562" text-anchor="start" textLength="236.8" lengthAdjust="spacingAndGlyphs">Time since BAT trigger (s)</text>
<text x="122.3" y="85.5" text-anchor="end" >10</text>
<text x="122.3" y="115.0" text-anchor="end" >1</text>
<text x="122.3" y="144.5" text-anchor="end" >0.1</text>
<text x="122.3" y="174.0" text-anchor="end" >0.01</text>
<text x="122.3" y="203.5" text-anchor="end" >10<tspan font-size="12.5" dy="-4.4">−</tspan><tspan font-size="12.5" dy="-1.4">3</tspan></text>
<text x="122.3" y="236.5" text-anchor="end" >10</text>
<text x="122.3" y="267.25" text-anchor="end" >1</text>
<text x="122.3" y="298.0" text-anchor="end" >0.1</text>
<text x="122.3" y="328.75" text-anchor="end" >0.01</text>
<text x="122.3" y="359.5" text-anchor="end" >10<tspan font-size="12.5" dy="-4.4">−</tspan><tspan font-size="12.5" dy="-1.4">3</tspan></text>
<text x="122.3" y="381.5" text-anchor="end" >2</text>
<text x="122.3" y="421.2" text-anchor="end" >1.5</text>
<text x="122.3" y="460.8" text-anchor="end" >1</text>
<text x="122.3" y="500.5" text-anchor="end" >0.5</text>
<text transform="translate(49,135) rotate(-90) scale(1,1.05)" text-anchor="middle">1.51−10 keV c<tspan dx="-0.8">/</tspan><tspan dx="-0.8">s</tspan></text>
<text transform="translate(49,289) rotate(-90) scale(1,1.05)" text-anchor="middle">0.3−1.5 keV c<tspan dx="-0.8">/</tspan><tspan dx="-0.8">s</tspan></text>
<text transform="translate(49,440) rotate(-90) scale(1,1.05)" text-anchor="middle">Ratio</text>
</g>
</svg>
</body></html>
